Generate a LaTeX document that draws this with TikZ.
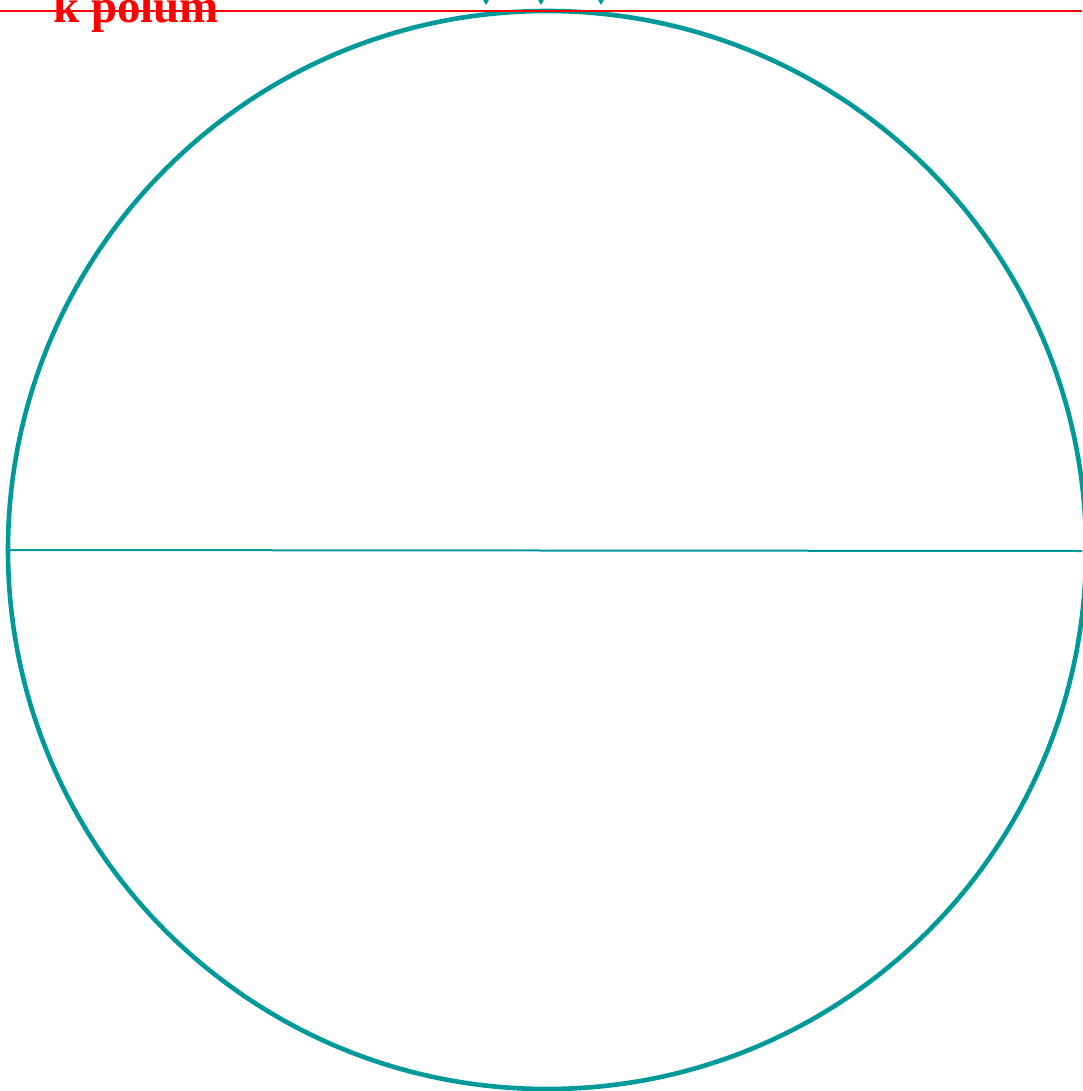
\documentclass[tikz,border=0pt]{standalone}
\usepackage{fontspec}
\setmainfont{Liberation Serif}
\definecolor{tealc}{RGB}{0,153,153}
\begin{document}
\begin{tikzpicture}[x=1pt,y=-1pt,
  ring/.style={draw=tealc,line width=4.6pt},
  axis/.style={draw=tealc,line width=2pt},
  redline/.style={draw=red,line width=1.8pt},
  tip/.style={fill=tealc,draw=none}]
\useasboundingbox (0,0) rectangle (1082,1091);
\coordinate (c) at (547,550);
\draw[ring] (c) circle[radius=539];
\coordinate (l) at (9,550);
\coordinate (r) at (1082,551);
\draw[axis] (l) -- (r);
\coordinate (rl) at (0,11);
\coordinate (rr) at (1082,11);
\draw[redline] (rl) -- (rr);
\node[anchor=base west,inner sep=0pt,text=red,font=\fontsize{47}{50}\selectfont\bfseries] (lbl) at (53,23) {k polum};
\foreach \x in {486,541,601}{
  \fill[tip] (\x-4,-2) -- (\x+4,-2) -- (\x,5) -- cycle;
}
\end{tikzpicture}
\end{document}
